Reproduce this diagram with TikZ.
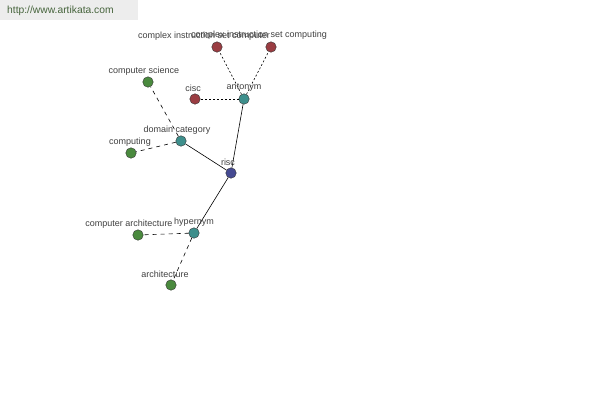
\documentclass[tikz,border=0pt]{standalone}
\usepackage{fontspec}
\setmainfont{Liberation Sans}
\definecolor{nred}{HTML}{9A3D42}
\definecolor{nteal}{HTML}{3E8F8C}
\definecolor{ngreen}{HTML}{4A8A3E}
\definecolor{nblue}{HTML}{454A92}
\definecolor{lbl}{HTML}{404040}
\begin{document}
\begin{tikzpicture}[x=1pt,y=-1pt,
  dot/.style={circle,draw=black!80,line width=0.4pt,minimum size=10.5pt,inner sep=0pt},
  lab/.style={font=\fontsize{9}{10}\selectfont,text=lbl,inner sep=0pt},
  rel/.style={line width=0.6pt},
  dsh/.style={line width=0.6pt,dash pattern=on 4pt off 4pt},
  dts/.style={line width=0.6pt,dash pattern=on 2pt off 2pt}]
\useasboundingbox (0,0) rectangle (600,400);
\fill[black!7] (0,0) rectangle (138,20);
\node[anchor=west,font=\fontsize{10.3}{12}\selectfont,text={rgb,255:red,70;green,100;blue,60},inner sep=0pt] (url) at (7,11) {http://www.artikata.com};
\coordinate (pRisc) at (231,173);
\coordinate (pAnt) at (244,99);
\coordinate (pDom) at (181,141);
\coordinate (pHyp) at (194,233);
\coordinate (pCisc) at (195,99);
\coordinate (pCic1) at (217,47);
\coordinate (pCic2) at (271,47);
\coordinate (pCs) at (148,82);
\coordinate (pCmp) at (131,153);
\coordinate (pCa) at (138,235);
\coordinate (pAr) at (171,285);
\node[dot,fill=nblue] (risc) at (pRisc) {};
\node[dot,fill=nteal] (ant) at (pAnt) {};
\node[dot,fill=nteal] (dom) at (pDom) {};
\node[dot,fill=nteal] (hyp) at (pHyp) {};
\node[dot,fill=nred] (cisc) at (pCisc) {};
\node[dot,fill=nred] (cic1) at (pCic1) {};
\node[dot,fill=nred] (cic2) at (pCic2) {};
\node[dot,fill=ngreen] (cs) at (pCs) {};
\node[dot,fill=ngreen] (cmp) at (pCmp) {};
\node[dot,fill=ngreen] (ca) at (pCa) {};
\node[dot,fill=ngreen] (ar) at (pAr) {};
\draw[rel] (risc) -- (ant);
\draw[rel] (risc) -- (dom);
\draw[rel] (risc) -- (hyp);
\draw[dts] (ant) -- (cisc);
\draw[dts] (ant) -- (cic1);
\draw[dts] (ant) -- (cic2);
\draw[dsh] (dom) -- (cs);
\draw[dsh] (dom) -- (cmp);
\draw[dsh] (hyp) -- (ca);
\draw[dsh] (hyp) -- (ar);
\node[lab] (lrisc) at (228,162) {risc};
\node[lab] (lant) at (244,88) {antonym};
\node[lab] (ldom) at (177,130) {domain category};
\node[lab] (lhyp) at (194,222) {hypernym};
\node[lab] (lcisc) at (193,88) {cisc};
\node[lab] (lcic1) at (204,36) {complex instruction set computer};
\node[lab] (lcic2) at (259,35) {complex instruction set computing};
\node[lab] (lcs) at (144,71) {computer science};
\node[lab] (lcmp) at (130,142) {computing};
\node[lab] (lca) at (129,224) {computer architecture};
\node[lab] (lar) at (165,274) {architecture};
\end{tikzpicture}
\end{document}
